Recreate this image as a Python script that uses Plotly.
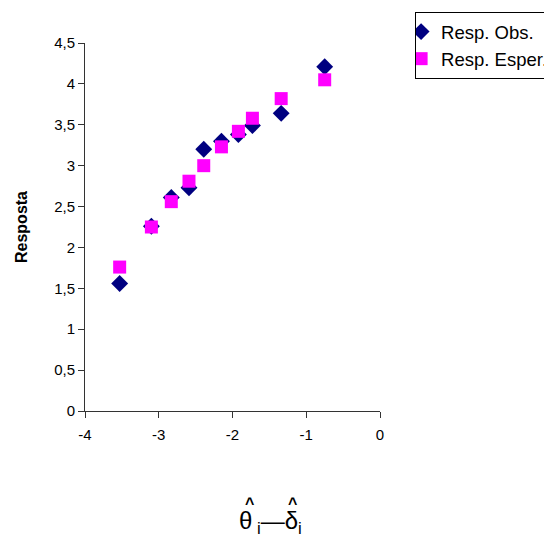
import plotly.graph_objects as go

# Data
theta_minus_delta = [-3.53, -3.10, -2.83, -2.59, -2.39, -2.15, -1.92, -1.73, -1.34, -0.75]
resp_obs = [1.56, 2.26, 2.61, 2.73, 3.20, 3.30, 3.38, 3.49, 3.64, 4.21]
resp_esper = [1.76, 2.25, 2.56, 2.81, 3.00, 3.23, 3.42, 3.58, 3.82, 4.05]

series_names = ["Resp. Obs.", "Resp. Esper."]
x_tickvals = [-4, -3, -2, -1, 0]
x_ticktext = ["-4", "-3", "-2", "-1", "0"]
y_tickvals = [0, 0.5, 1, 1.5, 2, 2.5, 3, 3.5, 4, 4.5]
y_ticktext = ["0", "0,5", "1", "1,5", "2", "2,5", "3", "3,5", "4", "4,5"]

FONT = "Liberation Sans, Arial, sans-serif"

fig = go.Figure()
fig.add_trace(go.Scatter(
    x=theta_minus_delta, y=resp_obs, mode="markers", name=series_names[0],
    marker=dict(symbol="diamond", size=13, color="#000080"),
))
fig.add_trace(go.Scatter(
    x=theta_minus_delta, y=resp_esper, mode="markers", name=series_names[1],
    marker=dict(symbol="square", size=13, color="#FF00FF"),
))

fig.update_layout(
    width=552, height=541,
    margin=dict(l=77, r=180, t=35, b=138, autoexpand=False),
    paper_bgcolor="white", plot_bgcolor="white",
    font=dict(family=FONT, size=15, color="black"),
    showlegend=True,
    legend=dict(
        x=1.119, y=1.084, xanchor="left", yanchor="top",
        bordercolor="black", borderwidth=1, bgcolor="white",
        font=dict(family=FONT, size=18.5, color="black"),
        tracegroupgap=0, itemwidth=30, indentation=-15,
    ),
    xaxis=dict(
        range=[-4, 0], tickvals=x_tickvals, ticktext=x_ticktext,
        showgrid=False, zeroline=False, showline=True, linecolor="#333333",
        linewidth=1, ticks="outside", ticklen=6, tickcolor="#333333",
        tickfont=dict(family=FONT, size=15), ticklabelstandoff=4,
    ),
    yaxis=dict(
        range=[0, 4.5], tickvals=y_tickvals, ticktext=y_ticktext,
        showgrid=False, zeroline=False, showline=True, linecolor="#333333",
        linewidth=1, ticks="outside", ticklen=6, tickcolor="#333333",
        tickfont=dict(family=FONT, size=15),
        title=dict(text="<b>Resposta</b>", font=dict(family=FONT, size=16), standoff=22),
    ),
)

# x-axis title: theta-hat_i minus delta-hat_i
fig.add_annotation(
    xref="paper", yref="paper", x=0.629, y=-0.303,
    xanchor="center", yanchor="middle", showarrow=False,
    text="θ<sub> i</sub>—δ<sub>i</sub>",
    font=dict(family=FONT, size=24, color="black"),
)
for hx in (0.556, 0.705):
    fig.add_annotation(
        xref="paper", yref="paper", x=hx, y=-0.251,
        xanchor="center", yanchor="middle", showarrow=False,
        text="<b>^</b>", font=dict(family=FONT, size=16, color="black"),
    )

fig.write_html("out.html")
